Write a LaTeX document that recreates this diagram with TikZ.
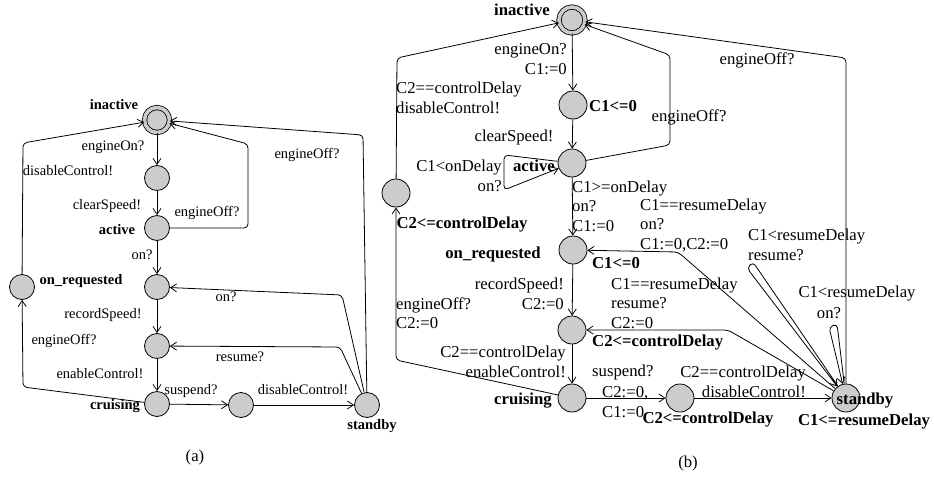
\documentclass[tikz,border=0pt]{standalone}
\usepackage{fontspec}
\setmainfont{Liberation Serif}
\usetikzlibrary{arrows.meta}
\definecolor{LocGray}{RGB}{204,204,204}

\begin{document}
\begin{tikzpicture}[x=1pt, y=-1pt,
    loc/.style={circle, draw, fill=LocGray, line width=0.8pt, inner sep=0pt},
    init/.style={loc, double=LocGray, double distance=3.6pt},
    tr/.style={draw, line width=0.8pt, rounded corners=4pt, -{Straight Barb[length=6pt,width=8pt]}},
    fa/.style={font=\fontsize{14.5}{16}\selectfont, inner sep=0pt},
    fb/.style={font=\fontsize{16.7}{19.5}\selectfont, inner sep=0pt},
    nma/.style={font=\fontsize{14.5}{16}\selectfont\bfseries, inner sep=0pt},
    nmb/.style={font=\fontsize{16.7}{19.5}\selectfont\bfseries, inner sep=0pt}]
  \useasboundingbox (0,0) rectangle (934,479);

  % (a) locations
  \node[init, minimum size=25pt] (a_inactive) at (157,120) {};
  \node[loc, minimum size=25pt] (a_n1) at (157,178) {};
  \node[loc, minimum size=25pt] (a_active) at (157,228) {};
  \node[loc, minimum size=25pt] (a_on) at (157,287) {};
  \node[loc, minimum size=25pt] (a_rec) at (157,346) {};
  \node[loc, minimum size=25pt] (a_cruising) at (157,404) {};
  \node[loc, minimum size=25pt] (a_susp) at (241,405) {};
  \node[loc, minimum size=25pt] (a_standby) at (367,405) {};
  \node[loc, minimum size=25pt] (a_onreq) at (22,287) {};

  % (a) location names
  \node[nma] at (114,105) {inactive};
  \node[nma] at (117,230) {active};
  \node[nma] at (81,281) {on\_requested};
  \node[nma] at (115,406) {cruising};
  \node[nma] at (372,426) {standby};

  % (a) transitions
  \draw[tr] (a_inactive) -- (a_n1);
  \draw[tr] (a_n1) -- (a_active);
  \draw[tr] (a_active) -- (a_on);
  \draw[tr] (a_on) -- (a_rec);
  \draw[tr] (a_rec) -- (a_cruising);
  \draw[tr] (a_cruising) -- (a_susp);
  \draw[tr] (a_susp) -- (a_standby);
  \draw[tr] (a_active) -- (248,228) -- (248,144) -- (a_inactive);
  \draw[tr] (a_standby) -- (363,135) -- (a_inactive);
  \draw[tr] (a_standby) -- (342,295) -- (a_on);
  \draw[tr] (a_standby) -- (340,347) -- (a_rec);
  \draw[tr] (a_cruising) -- (23,387) -- (a_onreq);
  \draw[tr] (a_onreq) -- (23,143) -- (a_inactive);

  % (a) labels
  \node[fa] at (113,147) {engineOn?};
  \node[fa] at (107,206) {clearSpeed!};
  \node[fa] at (142,255) {on?};
  \node[fa] at (103,315) {recordSpeed!};
  \node[fa] at (100,374) {enableControl!};
  \node[fa] at (191,391) {suspend?};
  \node[fa] at (303,390) {disableControl!};
  \node[fa] at (207,213) {engineOff?};
  \node[fa] at (307,155) {engineOff?};
  \node[fa] at (226,297) {on?};
  \node[fa] at (240,357) {resume?};
  \node[fa] at (64,341) {engineOff?};
  \node[fa] at (68,171) {disableControl!};
  \node[fb] at (195,457) {(a)};

  % (b) locations
  \node[init, minimum size=26pt] (b_inactive) at (572,20) {};
  \node[loc, minimum size=28pt] (b_n1) at (573,105) {};
  \node[loc, minimum size=28pt] (b_active) at (572,163) {};
  \node[loc, minimum size=28pt] (b_onreq) at (573,250) {};
  \node[loc, minimum size=28pt] (b_rec) at (572,330) {};
  \node[loc, minimum size=28pt] (b_cruising) at (572,398) {};
  \node[loc, minimum size=28pt] (b_susp) at (680,398) {};
  \node[loc, minimum size=28pt] (b_standby) at (846,398) {};
  \node[loc, minimum size=28pt] (b_off) at (396,193) {};

  % (b) transitions
  \draw[tr] (b_inactive) -- (b_n1);
  \draw[tr] (b_n1) -- (b_active);
  \draw[tr] (b_active) -- (b_onreq);
  \draw[tr] (b_onreq) -- (b_rec);
  \draw[tr] (b_rec) -- (b_cruising);
  \draw[tr] (b_cruising) -- (b_susp);
  \draw[tr] (b_susp) -- (b_standby);
  \draw[tr] (b_active) -- (670,145) -- (670,55) -- (b_inactive);
  \draw[tr] (b_standby) -- (846,58) -- (b_inactive);
  \draw[tr] (b_cruising) -- (396,360) -- (b_off);
  \draw[tr] (b_off) -- (397,58) -- (b_inactive);
  \draw[tr] (b_standby) -- (678,252) -- (b_onreq);
  \draw[tr] (b_standby) -- (728,330) -- (b_rec);
  \draw[tr] (b_active) -- (504,155) -- (504,190) -- (b_active);
  \draw[tr] (b_standby) -- (753,262) -- (747,268) -- (b_standby);
  \draw[tr] (b_standby) -- (837,324) -- (829,327) -- (b_standby);

  % (b) location names and invariants
  \node[nmb] at (522,10) {inactive};
  \node[nmb, anchor=west] at (589,106) {C1<=0};
  \node[nmb] at (534,166) {active};
  \node[nmb] at (493,254) {on\_requested};
  \node[nmb] at (616,263) {C1<=0};
  \node[nmb] at (462,225) {C2<=controlDelay};
  \node[nmb, anchor=west] at (592,343) {C2<=controlDelay};
  \node[nmb] at (523,401) {cruising};
  \node[nmb] at (708,420) {C2<=controlDelay};
  \node[nmb] at (865,401) {standby};
  \node[nmb] at (864,422) {C1<=resumeDelay};

  % (b) labels
  \node[fb, anchor=east, align=right] at (567,59) {engineOn?\\C1:=0};
  \node[fb, anchor=west, align=left] at (396,98) {C2==controlDelay\\disableControl!};
  \node[fb] at (514,137) {clearSpeed!};
  \node[fb] at (689,117) {engineOff?};
  \node[fb] at (757,60) {engineOff?};
  \node[fb, anchor=east, align=right] at (502,176) {C1<onDelay\\on?};
  \node[fb, anchor=west, align=left] at (572,206) {C1>=onDelay\\on?\\C1:=0};
  \node[fb, anchor=west, align=left] at (640,225) {C1==resumeDelay\\on?\\C1:=0,C2:=0};
  \node[fb, anchor=west, align=left] at (611,303) {C1==resumeDelay\\resume?\\C2:=0};
  \node[fb, anchor=west, align=left] at (748,245) {C1<resumeDelay\\resume?};
  \node[fb] at (857,294) {C1<resumeDelay};
  \node[fb] at (829,313) {on?};
  \node[fb, anchor=east, align=right] at (564,294) {recordSpeed!\\C2:=0};
  \node[fb, anchor=west, align=left] at (396,313) {engineOff?\\C2:=0};
  \node[fb, anchor=east, align=right] at (566,362) {C2==controlDelay\\enableControl!};
  \node[fb, anchor=west] at (592,372) {suspend?};
  \node[fb, anchor=west, align=left] at (602,402) {C2:=0,\\C1:=0};
  \node[fb, anchor=east, align=right] at (806,382) {C2==controlDelay\\disableControl!};
  \node[fb] at (688,463) {(b)};
\end{tikzpicture}
\end{document}
